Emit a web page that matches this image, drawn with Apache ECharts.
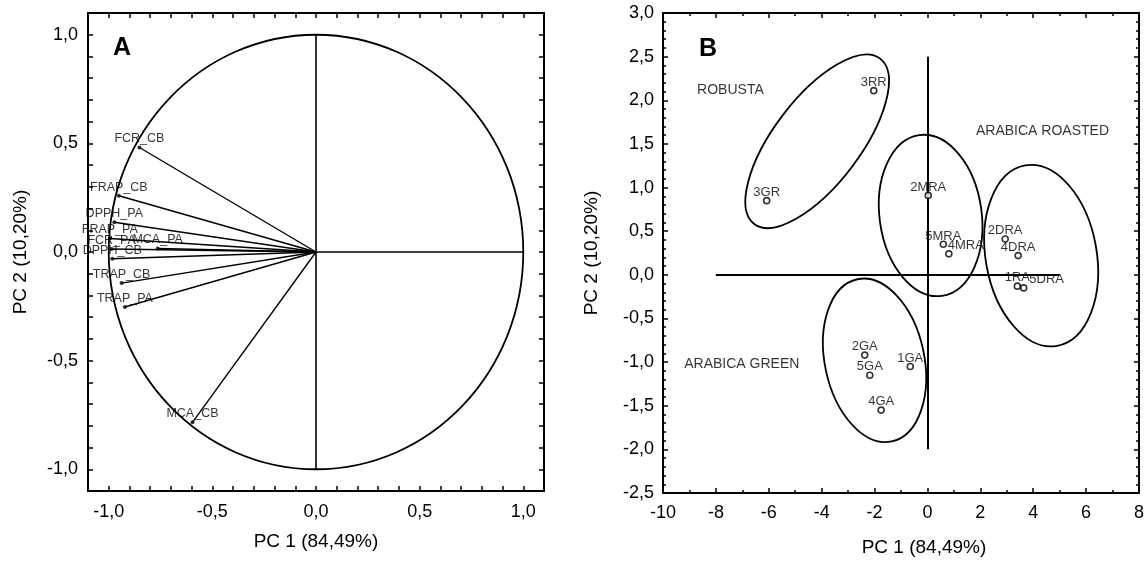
<!DOCTYPE html>
<html>
<head>
<meta charset="utf-8">
<script src="https://cdn.jsdelivr.net/npm/echarts@6/dist/echarts.min.js"></script>
<style>
  html, body { margin: 0; padding: 0; background: #fff; }
  #main { width: 1147px; height: 562px; }
</style>
</head>
<body>
<div id="main"></div>
<script>
// Panel A: loadings (PC1, PC2)
var aNames = ['FCR_CB', 'FRAP_CB', 'DPPH_PA', 'FRAP_PA', 'FCR_PA', 'MCA_PA', 'DPPH_CB', 'TRAP_CB', 'TRAP_PA', 'MCA_CB'];
var aPC1 = [-0.852, -0.951, -0.973, -0.995, -0.986, -0.764, -0.983, -0.938, -0.922, -0.596];
var aPC2 = [0.481, 0.259, 0.137, 0.062, 0.014, 0.016, -0.031, -0.143, -0.253, -0.784];
var aTickLabels = [-1.0, -0.5, 0.0, 0.5, 1.0];

// Panel B: scores
var bNames = ['3RR', '3GR', '2MRA', '5MRA', '4MRA', '2DRA', '4DRA', '1RA', '5DRA', '2GA', '5GA', '1GA', '4GA'];
var bPC1 = [-2.03, -6.08, 0.03, 0.60, 0.81, 2.94, 3.43, 3.40, 3.64, -2.37, -2.18, -0.65, -1.75];
var bPC2 = [2.11, 0.85, 0.91, 0.35, 0.24, 0.41, 0.22, -0.13, -0.15, -0.92, -1.15, -1.05, -1.55];

// group ellipses: centre, half-axes (x units, y units), rotation in degrees
var ellCx = [-4.17, 0.12, 4.3, -2.0];
var ellCy = [1.53, 0.68, 0.22, -0.98];
var ellRx = [3.93, 1.93, 2.1, 1.88];
var ellRy = [0.495, 0.93, 1.05, 0.95];
var ellRot = [52.7, 8, 10, 12];

var groupNames = ['ROBUSTA', 'ARABICA ROASTED', 'ARABICA GREEN'];
var groupX = [-7.45, 4.35, -7.02];
var groupY = [2.12, 1.65, -1.02];

var labelShift = { '4MRA': [17, 0], '5DRA': [23, 0] };

var FONT = '"Liberation Sans", Arial, sans-serif';
var fmt1 = function (v) { if (Math.abs(v) < 1e-9) v = 0; return v.toFixed(1).replace('.', ','); };

function axis(gi, pos, min, max, interval, opts) {
  var a = {
    gridIndex: gi, type: 'value', position: pos, min: min, max: max, interval: interval,
    axisLine: { show: true, onZero: false, lineStyle: { color: '#000', width: 2 } },
    axisTick: { show: true, inside: true, length: 5, lineStyle: { color: '#000', width: 1.5 } },
    axisLabel: { show: false },
    splitLine: { show: false }
  };
  for (var k in opts) a[k] = opts[k];
  return a;
}

var nameStyle = { color: '#000', fontSize: 19, fontFamily: FONT };

var myChart = echarts.init(document.getElementById('main'));

function ellipseItem(params, api) {
  var c = api.coord([api.value(0), api.value(1)]);
  var s = api.size([api.value(2), api.value(3)]);
  return {
    type: 'ellipse',
    x: c[0], y: c[1],
    rotation: api.value(4) * Math.PI / 180,
    shape: { cx: 0, cy: 0, rx: s[0], ry: s[1] },
    style: { fill: 'none', stroke: '#000', lineWidth: 1.8 }
  };
}

myChart.setOption({
  animation: false,
  backgroundColor: '#fff',
  title: [
    { text: 'A', left: 108, top: 31, textStyle: { fontSize: 25, fontWeight: 'bold', color: '#000', fontFamily: FONT } },
    { text: 'B', left: 694, top: 32, textStyle: { fontSize: 25, fontWeight: 'bold', color: '#000', fontFamily: FONT } }
  ],
  grid: [
    { left: 88, top: 13, width: 456, height: 478 },
    { left: 663, top: 13, width: 481, height: 489 }
  ],
  xAxis: [
    axis(0, 'bottom', -1.1, 1.1, 0.1, {
      axisLabel: { show: true, color: '#000', fontSize: 18, fontFamily: FONT, customValues: aTickLabels, formatter: fmt1, margin: 12 },
      name: 'PC 1 (84,49%)', nameLocation: 'middle', nameGap: 41, nameTextStyle: nameStyle
    }),
    axis(0, 'top', -1.1, 1.1, 0.1, {}),
    axis(1, 'bottom', -10, 8, 2, {
      minorTick: { show: true, splitNumber: 2, length: 3, lineStyle: { color: '#000', width: 1.5 } },
      axisLabel: { show: true, color: '#000', fontSize: 18, fontFamily: FONT, margin: 11 },
      name: 'PC 1 (84,49%)', nameLocation: 'middle', nameGap: 45,
      nameTextStyle: { color: '#000', fontSize: 19, fontFamily: FONT, padding: [0, 0, 0, 46] }
    }),
    axis(1, 'top', -10, 8, 2, {
      minorTick: { show: true, splitNumber: 2, length: 3, lineStyle: { color: '#000', width: 1.5 } }
    })
  ],
  yAxis: [
    axis(0, 'left', -1.1, 1.1, 0.1, {
      axisLabel: { show: true, color: '#000', fontSize: 18, fontFamily: FONT, customValues: aTickLabels, formatter: fmt1, margin: 10 },
      name: 'PC 2 (10,20%)', nameLocation: 'middle', nameGap: 58, nameTextStyle: nameStyle
    }),
    axis(0, 'right', -1.1, 1.1, 0.1, {}),
    axis(1, 'left', -2.5, 3, 0.5, {
      minorTick: { show: true, splitNumber: 5, length: 3, lineStyle: { color: '#000', width: 1.5 } },
      axisLabel: { show: true, color: '#000', fontSize: 18, fontFamily: FONT, formatter: fmt1, margin: 9 },
      name: 'PC 2 (10,20%)', nameLocation: 'middle', nameGap: 62, nameTextStyle: nameStyle
    }),
    axis(1, 'right', -2.5, 3, 0.5, {
      minorTick: { show: true, splitNumber: 5, length: 3, lineStyle: { color: '#000', width: 1.5 } }
    })
  ],
  series: [
    // A: unit circle
    {
      type: 'custom', xAxisIndex: 0, yAxisIndex: 0, silent: true,
      renderItem: ellipseItem, encode: { x: 0, y: 1 },
      data: [[0, 0, 1, 1, 0]]
    },
    // A: reference lines
    {
      type: 'lines', coordinateSystem: 'cartesian2d', xAxisIndex: 0, yAxisIndex: 0, silent: true,
      lineStyle: { color: '#000', width: 1.6, opacity: 1 },
      data: [{ coords: [[0, -1], [0, 1]] }, { coords: [[0, 0], [1, 0]] }]
    },
    // A: loading vectors
    {
      type: 'lines', coordinateSystem: 'cartesian2d', xAxisIndex: 0, yAxisIndex: 0, silent: true,
      lineStyle: { color: '#000', width: 1.4, opacity: 1 },
      data: aNames.map(function (n, i) { return { coords: [[0, 0], [aPC1[i], aPC2[i]]] }; })
    },
    {
      type: 'scatter', xAxisIndex: 0, yAxisIndex: 0, symbol: 'circle', symbolSize: 4,
      itemStyle: { color: '#000' },
      label: { show: true, position: 'top', distance: 0, formatter: '{b}', color: '#000', fontSize: 12.5, fontFamily: FONT },
      data: aNames.map(function (n, i) { return { name: n, value: [aPC1[i], aPC2[i]] }; })
    },
    // B: ellipses
    {
      type: 'custom', xAxisIndex: 2, yAxisIndex: 2, silent: true,
      renderItem: ellipseItem, encode: { x: 0, y: 1 },
      data: ellCx.map(function (c, i) { return [c, ellCy[i], ellRx[i], ellRy[i], ellRot[i]]; })
    },
    // B: reference lines
    {
      type: 'lines', coordinateSystem: 'cartesian2d', xAxisIndex: 2, yAxisIndex: 2, silent: true,
      lineStyle: { color: '#000', width: 2, opacity: 1 },
      data: [{ coords: [[0, -2], [0, 2.5]] }, { coords: [[-8, 0], [5, 0]] }]
    },
    // B: scores
    {
      type: 'scatter', xAxisIndex: 2, yAxisIndex: 2, symbol: 'circle', symbolSize: 6,
      itemStyle: { color: '#fff', borderColor: '#000', borderWidth: 1.6 },
      label: { show: true, position: 'top', distance: -2, formatter: '{b}', color: '#000', fontSize: 13, fontFamily: FONT },
      data: bNames.map(function (n, i) {
        var d = { name: n, value: [bPC1[i], bPC2[i]] };
        if (labelShift[n]) d.label = { offset: labelShift[n] };
        return d;
      })
    },
    // B: group names
    {
      type: 'scatter', xAxisIndex: 2, yAxisIndex: 2, symbolSize: 0, silent: true,
      label: { show: true, position: 'inside', formatter: '{b}', color: '#000', fontSize: 14, fontFamily: FONT },
      data: groupNames.map(function (n, i) { return { name: n, value: [groupX[i], groupY[i]] }; })
    }
  ]
});
</script>
</body>
</html>
